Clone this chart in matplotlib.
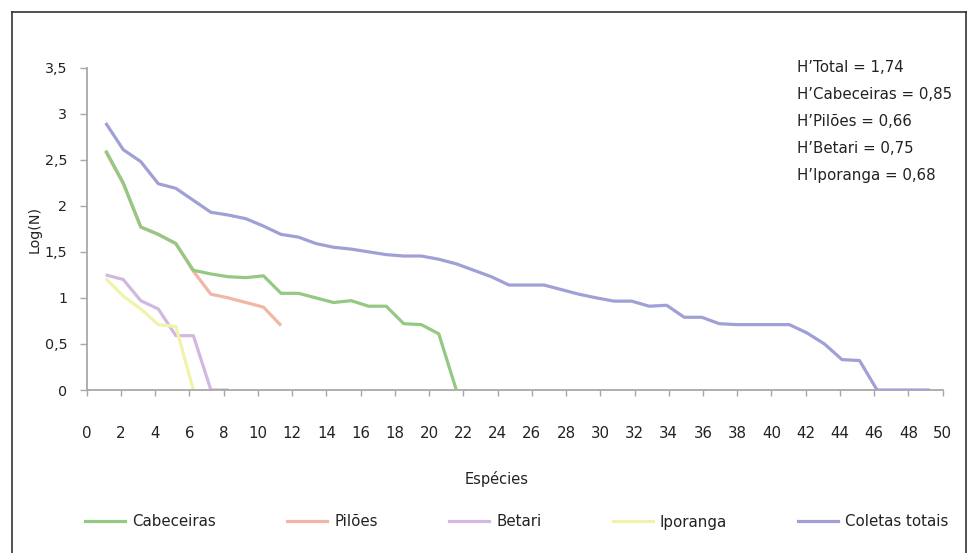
import numpy as np
import matplotlib
matplotlib.use("Agg")
import matplotlib.pyplot as plt
from matplotlib.lines import Line2D

# ---------------- data ----------------
cabeceiras = [2.60, 2.25, 1.77, 1.69, 1.59, 1.30, 1.26, 1.23, 1.22, 1.24, 1.05,
              1.05, 1.00, 0.95, 0.97, 0.91, 0.91, 0.72, 0.71, 0.61, 0.00]
piloes = [2.59, 2.24, 1.77, 1.69, 1.59, 1.29, 1.04, 1.00, 0.95, 0.90, 0.70]
betari = [1.25, 1.20, 0.97, 0.88, 0.59, 0.59, 0.00, 0.00]
iporanga = [1.21, 1.02, 0.88, 0.71, 0.69, 0.00]
coletas = [2.90, 2.61, 2.48, 2.24, 2.19, 2.06, 1.93, 1.90, 1.86, 1.78, 1.69,
           1.66, 1.59, 1.55, 1.53, 1.50, 1.47, 1.455, 1.455, 1.42, 1.37, 1.30,
           1.23, 1.14, 1.14, 1.14, 1.09, 1.04, 1.00, 0.965, 0.965, 0.91, 0.92,
           0.79, 0.79, 0.72, 0.71, 0.71, 0.71, 0.71, 0.62, 0.50, 0.33, 0.32,
           0.00, 0.00, 0.00, 0.00]

series_names = ["Cabeceiras", "Pilões", "Betari", "Iporanga", "Coletas totais"]
series_values = [cabeceiras, piloes, betari, iporanga, coletas]
series_colors = ["#93c982", "#f0b6a6", "#d2b8e0", "#f2f2aa", "#a0a0d6"]
series_z = [4, 3, 2, 2, 5]

x_ticks = list(range(0, 51, 2))
y_ticks = [0, 0.5, 1, 1.5, 2, 2.5, 3, 3.5]
y_ticklabels = ["0", "0,5", "1", "1,5", "2", "2,5", "3", "3,5"]

diversity_text = ["H’Total = 1,74", "H’Cabeceiras = 0,85", "H’Pilões = 0,66",
                  "H’Betari = 0,75", "H’Iporanga = 0,68"]

# category axis -> "Espécies" scale mapping (layout constants)
X0, STEP = 1.11, 1.024
def fwd(r):
    return X0 + STEP * (np.asarray(r, dtype=float) - 1)
def inv(v):
    return 1 + (np.asarray(v, dtype=float) - X0) / STEP

# ---------------- figure ----------------
W, H = 970, 553
fig = plt.figure(figsize=(W / 100, H / 100), dpi=100)
fig.patch.set_facecolor("white")

L, R, B, T = 86.7, 942.7, 390, 67.7
ax = fig.add_axes([L / W, 1 - B / H, (R - L) / W, (B - T) / H])

TXT = "#222222"
AXC = "#a8a8a8"

for name, vals, col, z in zip(series_names, series_values, series_colors, series_z):
    ranks = np.arange(1, len(vals) + 1)
    ax.plot(ranks, vals, color=col, lw=2.3, zorder=z, label=name,
            solid_joinstyle="round", solid_capstyle="butt")

ax.set_xlim(float(inv(0)), float(inv(50)))
ax.set_ylim(0, 3.5)
ax.set_xticks([])
ax.set_yticks(y_ticks)
ax.set_yticklabels(y_ticklabels)
ax.tick_params(axis="y", direction="out", length=5, width=1, color=AXC,
               pad=9, labelsize=10.3, labelcolor=TXT)
for s in ["top", "right"]:
    ax.spines[s].set_visible(False)
for s in ["left", "bottom"]:
    ax.spines[s].set_color(AXC)
    ax.spines[s].set_linewidth(1.3)

sec = ax.secondary_xaxis("bottom", functions=(fwd, inv))
sec.set_xticks(x_ticks)
sec.set_xticklabels([str(v) for v in x_ticks])
sec.tick_params(direction="out", length=4, width=1, color=AXC, pad=22,
                labelsize=10.8, labelcolor=TXT)
sec.spines["bottom"].set_visible(False)

# axis labels
fig.text(35 / W, 1 - 229 / H, "Log(N)", rotation=90, ha="center", va="center",
         fontsize=10.3, color=TXT)
fig.text(497 / W, 1 - 479 / H, "Espécies", ha="center", va="center",
         fontsize=10.5, color=TXT)

# diversity annotations
for i, t in enumerate(diversity_text):
    fig.text(797 / W, 1 - (68 + 26.8 * i) / H, t, ha="left", va="center",
             fontsize=10.8, color=TXT)

# legend
handles = [Line2D([], [], color=c, lw=2.3) for c in series_colors]
fig.legend(handles, series_names, loc="center", ncol=5, frameon=False,
           bbox_to_anchor=(517 / W, 1 - 522 / H), fontsize=10.8,
           handlelength=2.67, handletextpad=0.47, columnspacing=4.75,
           labelcolor=TXT)

# outer border (left, top, right)
bx0, bx1, by = 12 / W, 966 / W, 1 - 12 / H
fig.add_artist(Line2D([bx0, bx0], [0, by], transform=fig.transFigure,
                      color="#333333", lw=1.2))
fig.add_artist(Line2D([bx0, bx1], [by, by], transform=fig.transFigure,
                      color="#333333", lw=1.2))
fig.add_artist(Line2D([bx1, bx1], [0, by], transform=fig.transFigure,
                      color="#333333", lw=1.2))

fig.savefig("out.png", dpi=100, facecolor="white")
